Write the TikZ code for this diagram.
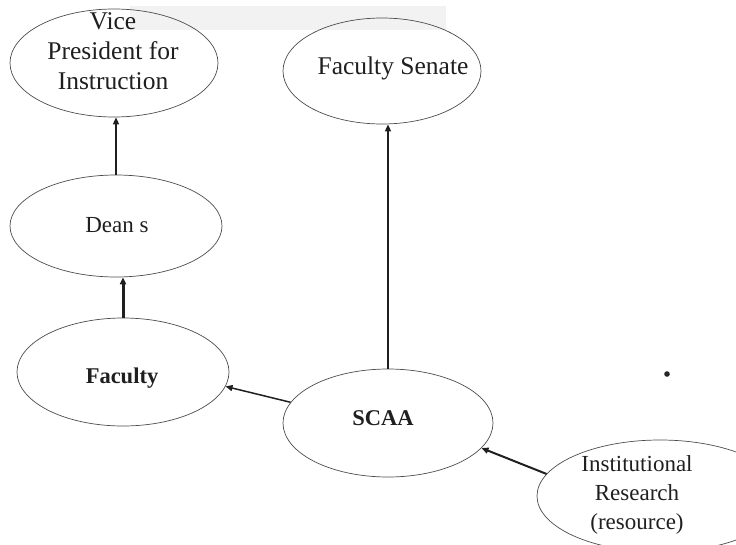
\documentclass[tikz,border=0pt]{standalone}
\usepackage{fontspec}
\setmainfont{Liberation Serif}
\usetikzlibrary{shapes.geometric,arrows.meta}
\begin{document}
\begin{tikzpicture}[x=1pt,y=-1pt,
  bubble/.style={draw=black!70, line width=0.7pt, ellipse, inner sep=0pt},
  caption/.style={font=\fontsize{23}{29}\selectfont, align=center, text=black!88, inner sep=0pt},
  bigcaption/.style={caption, font=\fontsize{25.5}{30}\selectfont},
  strong/.style={caption, font=\fontsize{22.5}{29}\selectfont\bfseries},
  link/.style={draw=black!88, line width=1.5pt, -{Triangle[length=7pt,width=6pt]}},
]
\useasboundingbox (0,0) rectangle (736,544);
% faint band along the top
\fill[black!5] (130,6) rectangle (446,30);

% ellipses
\node[bubble, minimum width=208pt, minimum height=108pt] (vp)     at (114,63)  {};
\node[bubble, minimum width=198pt, minimum height=106pt] (senate) at (382,71)  {};
\node[bubble, minimum width=212pt, minimum height=102pt] (deans)  at (116,226) {};
\node[bubble, minimum width=212pt, minimum height=108pt] (fac)    at (123,372) {};
\node[bubble, minimum width=210pt, minimum height=108pt] (scaa)   at (388,423) {};
\node[bubble, minimum width=246pt, minimum height=112pt] (ir)     at (660,496) {};

% labels
\node[bigcaption] (vpText)     at (113,51)  {Vice\\President for\\Instruction};
\node[bigcaption] (senateText) at (393,68)  {Faculty Senate};
\node[caption]    (deansText)  at (117,225) {Dean s};
\node[strong]     (facText)    at (122,378) {Faculty};
\node[strong]     (scaaText)   at (383,418) {SCAA};
\node[caption]    (irText)     at (637,495) {Institutional\\Research\\(resource)};

% stray dot
\fill[black!85] (667,374) circle (2.8pt);

% connectors
\draw[link] (deans.north) -- (deans.north |- vp.south);
\draw[link, line width=3pt] (fac.north) -- (fac.north |- deans.south);
\draw[link] (scaa.north) -- (scaa.north |- senate.south);
\draw[link] (scaa.168) -- (fac.-8);
\draw[link, line width=2pt] (ir.169) -- (scaa.-15);
\end{tikzpicture}
\end{document}
